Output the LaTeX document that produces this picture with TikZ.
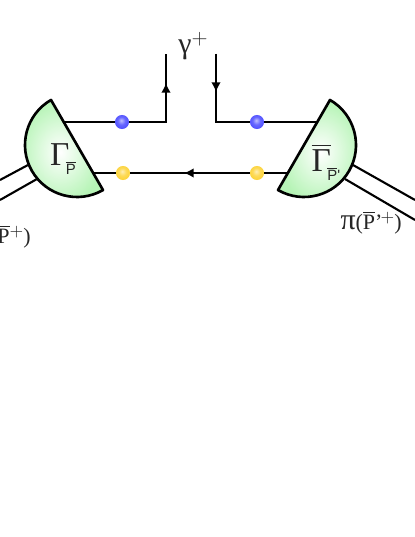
\documentclass[tikz,border=0pt]{standalone}
\usepackage{fontspec}
\usepackage{amsmath}
\setmainfont{Liberation Serif}
\newfontfamily\subfont{Liberation Sans}
\usetikzlibrary{arrows.meta}
\definecolor{blobgreen}{RGB}{182,244,182}
\definecolor{dotyellow}{RGB}{252,208,44}
\pgfdeclareradialshading{bluesphere}{\pgfpoint{-3bp}{6bp}}{color(0bp)=(blue!25!white); color(14bp)=(blue!60!white); color(32bp)=(blue!72!white); color(50bp)=(blue!72!white)}
\pgfdeclareradialshading{yellowsphere}{\pgfpoint{-3bp}{6bp}}{color(0bp)=(dotyellow!35!white); color(14bp)=(dotyellow!80!white); color(32bp)=(dotyellow); color(50bp)=(dotyellow)}
\tikzset{
  quark/.style={line width=1.2pt},
  tipped/.style={quark,-{Latex[length=5.5pt,width=5.5pt]}},
  blob/.style={draw,line width=1.5pt,line join=round,inner color=white,outer color=blobgreen},
  bluedot/.style={circle,inner sep=0pt,minimum size=8pt,shading=bluesphere},
  yellowdot/.style={circle,inner sep=0pt,minimum size=8pt,shading=yellowsphere},
  lbl/.style={inner sep=0pt,text=black!85}
}
\newcommand{\pbar}[1]{$\overline{\mbox{#1}}$}
\begin{document}
\begin{tikzpicture}[x=0.02cm,y=0.02cm]
\useasboundingbox (0,0) rectangle (415,537);
\coordinate (gammaL) at (77,392);
\coordinate (gammaR) at (304,392);
\coordinate (inL) at (64,415);
\coordinate (inR) at (318,415);
\coordinate (bendL) at (166,415);
\coordinate (bendR) at (216,415);
\coordinate (endL) at (166,483);
\coordinate (endR) at (216,483);
\coordinate (tipL) at (166,454);
\coordinate (tipR) at (216,445);
\coordinate (midB) at (184,364);
\node[bluedot] (dotTL) at (122,415) {};
\node[bluedot] (dotTR) at (257,415) {};
\node[yellowdot] (dotBL) at (123,364) {};
\node[yellowdot] (dotBR) at (257,364) {};
% quark lines
\draw[quark] (inL) -- (dotTL);
\draw[quark] (dotTL) -- (bendL) -- (endL);
\draw[tipped] (bendL) -- (tipL);
\draw[quark] (endR) -- (bendR) -- (dotTR);
\draw[tipped] (endR) -- (tipR);
\draw[quark] (dotTR) -- (inR);
\draw[quark] (gammaL |- dotBL) -- (dotBL);
\draw[quark] (dotBL) -- (dotBR);
\draw[tipped] (dotBR) -- (midB);
\draw[quark] (dotBR) -- (gammaR |- dotBR);
% pion legs
\draw[quark] (28,372) -- (0,357);
\draw[quark] (37,358) -- (0,337);
\draw[quark] (353,372) -- (415,337);
\draw[quark] (345,358) -- (415,317);
% vertices
\path[blob] (gammaL) ++(120:52) arc[start angle=120,end angle=300,radius=52] -- cycle;
\path[blob] (gammaR) ++(60:52) arc[start angle=60,end angle=-120,radius=52] -- cycle;
\node[lbl] (labL) at (63,378) {\fontsize{19}{19}\selectfont Γ\kern-2pt\raisebox{-5pt}{\subfont\fontsize{8.5}{8.5}\selectfont\pbar{P}}};
\node[lbl] (labR) at (326,375) {\fontsize{19}{19}\selectfont\pbar{Γ}\kern-2pt\raisebox{-5pt}{\subfont\fontsize{8.5}{8.5}\selectfont\pbar{P}'}};
\node[lbl] (labG) at (193,491) {\fontsize{17}{17}\selectfont γ\raisebox{5pt}{\fontsize{12}{12}\selectfont$+$}};
\node[lbl,anchor=east] (labPL) at (31,300) {\fontsize{17}{17}\selectfont π\fontsize{12.5}{12.5}\selectfont(\pbar{P}\raisebox{4pt}{\fontsize{10}{10}\selectfont$+$})};
\node[lbl,anchor=east] (labPR) at (402,314) {\fontsize{17}{17}\selectfont π\fontsize{12.5}{12.5}\selectfont(\pbar{P}'\kern-1pt\raisebox{4pt}{\fontsize{10}{10}\selectfont$+$})};
\end{tikzpicture}
\end{document}
